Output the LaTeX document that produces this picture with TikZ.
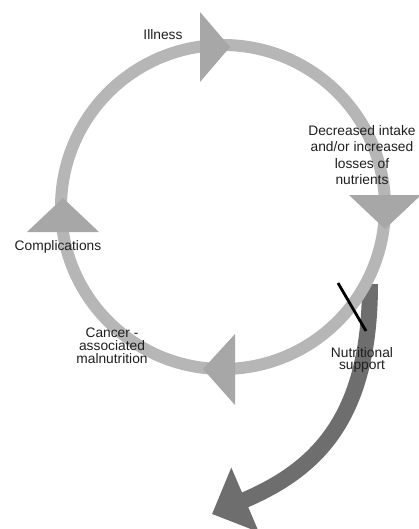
\documentclass[tikz,border=0pt]{standalone}
\usepackage{fontspec}
\setmainfont{Liberation Sans}
\usetikzlibrary{arrows.meta}
\definecolor{vilagos}{HTML}{B6B6B6}
\definecolor{sotet}{HTML}{6E6E6E}
\tikzset{
  felirat/.style={align=center,font=\fontsize{9.8}{11.6}\selectfont,text=black!88,inner sep=0pt},
  szoros/.style={font=\fontsize{9.8}{9.4}\selectfont},
  gyuru/.style={draw=vilagos,line width=3mm},
  fej/.style={fill=vilagos!92!black},
  tamogat/.style={draw=sotet,line width=4mm,-{Triangle[length=9mm,width=17mm]}},
  gat/.style={draw=black,line width=2pt},
}
\begin{document}
\begin{tikzpicture}[x=0.025cm,y=-0.025cm]
  \useasboundingbox (0,0) rectangle (419,529);
  % sotet nyil
  \coordinate (ki) at (370,284);
  \coordinate (vege) at (212,514);
  \draw[tamogat] (ki) .. controls (370,420) and (315,470) .. (vege);
  % kor
  \coordinate (kp) at (223,207);
  \draw[gyuru] (kp) circle [radius=162];
  \foreach \p/\q/\s in {{(200,12)}/{(230,47)}/{(200,82)},
                        {(349,195)}/{(421,195)}/{(385,229)},
                        {(27,232)}/{(99,232)}/{(63,198)},
                        {(235,334)}/{(235,405)}/{(203,369)}}
    \fill[fej] \p -- \q -- \s -- cycle;
  % gat
  \coordinate (g1) at (338,283);
  \coordinate (g2) at (366,331);
  \draw[gat] (g1) -- (g2);
  % feliratok
  \node[felirat] (illness) at (163,35) {Illness};
  \node[felirat] (decr) at (362,155) {Decreased intake\\and/or increased\\losses of\\nutrients};
  \node[felirat] (compl) at (58,247) {Complications};
  \node[felirat,szoros] (cancer) at (112,346) {Cancer -\\associated\\malnutrition};
  \node[felirat,szoros,font=\fontsize{9.8}{8.6}\selectfont] (nutri) at (362,360) {Nutritional\\support};
\end{tikzpicture}
\end{document}
